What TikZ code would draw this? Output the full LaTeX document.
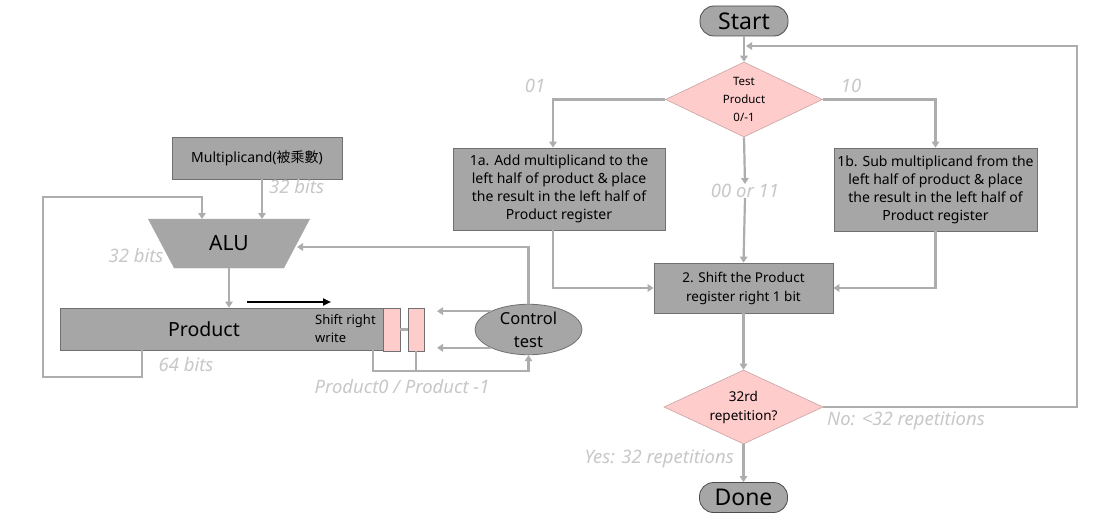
\documentclass[tikz,border=0pt]{standalone}
\usepackage{fontspec}
\setmainfont{Noto Sans}
\newfontfamily\cjk{Noto Sans CJK TC}
\usetikzlibrary{shapes.geometric,arrows.meta}
\definecolor{boxgray}{HTML}{A6A6A6}
\definecolor{linegray}{HTML}{ADADAD}
\definecolor{lblgray}{HTML}{C8C8C8}
\definecolor{pinkf}{HTML}{FFCCCC}
\definecolor{pinke}{HTML}{C9A3A3}
\definecolor{edge}{HTML}{707070}
\begin{document}
\begin{tikzpicture}[x=1pt,y=-1pt,
  conn/.style={draw=linegray,line width=2.2pt},
  arr/.style={conn,-{Triangle[width=7.5pt,length=6pt]}},
  box/.style={draw=edge,fill=boxgray,line width=0.8pt,inner sep=0pt,align=center},
  stepbox/.style={box,font=\fontsize{14}{18}\selectfont},
  lbl/.style={text=lblgray,font=\fontsize{18.5}{20}\selectfont\itshape,inner sep=0pt},
  term/.style={box,draw=black!70,rounded corners=14pt,minimum width=88pt,minimum height=30pt,font=\fontsize{23}{24}\selectfont},
  dia/.style={diamond,aspect=2,draw=pinke,fill=pinkf,line width=0.6pt,inner sep=0pt,align=center},
  pinkreg/.style={draw=edge,fill=pinkf,line width=0.8pt,inner sep=0pt,minimum height=43pt}
]
\useasboundingbox[fill=white] (0,0) rectangle (1105,519);

% ---------------- right flowchart ----------------
\node[term] (start) at (744,21) {Start};
\node[dia,minimum width=157pt,minimum height=75pt,font=\fontsize{11.5}{18}\selectfont] (d1) at (744,99.5) {Test\\Product\\0/-1};
\node[stepbox,minimum width=212pt,minimum height=82pt] (b1a) at (559,189) {1a. Add multiplicand to the\\left half of product \& place\\the result in the left half of\\Product register};
\node[stepbox,minimum width=203pt,minimum height=83pt] (b1b) at (935.5,189.5) {1b. Sub multiplicand from the\\left half of product \& place\\the result in the left half of\\Product register};
\node[lbl] (mid) at (745,191) {00 or 11};
\node[stepbox,minimum width=179pt,minimum height=50pt,font=\fontsize{13.5}{19}\selectfont] (b2) at (743.5,288) {2. Shift the Product\\register right 1 bit};
\node[dia,minimum width=159pt,minimum height=74pt,font=\fontsize{13.5}{19}\selectfont] (d2) at (743.5,407) {32rd\\repetition?};
\node[term] (done) at (743.5,497.5) {Done};

\node[lbl] (l01) at (535,86) {01};
\node[lbl] (l10) at (851,86) {10};
\node[lbl,anchor=west] (lno) at (827,421) {No: <32 repetitions};
\node[lbl,anchor=east] (lyes) at (734,459) {Yes: 32 repetitions};

\coordinate (ja) at (553,99.5);
\coordinate (lr) at (1077,407);
\coordinate (lt) at (1077,46);
\coordinate (li) at (746,46);

\draw[arr] (start.south) -- (d1.north);
\draw[arr] (d1.west) -- (ja) -- (ja |- b1a.north);
\draw[arr] (d1.east) -| (b1b.north);
\draw[arr] (d1.south) -- (mid.north);
\draw[arr] (mid.south) -- (b2.north);
\draw[arr] (ja |- b1a.south) |- (b2.west);
\draw[arr] (b1b.south) |- (b2.east);
\draw[arr] (b2.south) -- (d2.north);
\draw[arr] (d2.south) -- (done.north);
\draw[arr] (d2.east) -- (lr) -- (lt) -- (li);

% ---------------- left datapath ----------------
\node[box,minimum width=170pt,minimum height=42pt,font=\fontsize{14}{16}\selectfont] (mc) at (257,158) {Multiplicand({\cjk 被乘數})};
\node[trapezium,trapezium stretches=true,shape border rotate=180,
      trapezium left angle=58.5,trapezium right angle=58.5,
      minimum width=162pt,minimum height=49pt,inner sep=0pt,
      fill=boxgray,draw=boxgray,font=\fontsize{21}{24}\selectfont] (alu) at (229,243.5) {ALU};
\node[box,minimum width=323pt,minimum height=42pt] (prod) at (221.5,329) {};
\node[inner sep=0pt,font=\fontsize{19.5}{20}\selectfont] (prodtxt) at (204,329) {Product};
\node[inner sep=0pt,anchor=west,align=left,font=\fontsize{13}{18}\selectfont] (shtxt) at (315,329) {Shift right\\write};
\node[pinkreg,minimum width=17pt] (p1) at (391.5,329.5) {};
\node[pinkreg,minimum width=16pt] (p2) at (416,329.5) {};
\node[ellipse,draw=edge,fill=boxgray,line width=0.8pt,inner sep=0pt,minimum width=107pt,minimum height=43pt,align=center,font=\fontsize{16.5}{23}\selectfont] (ctrl) at (528.5,329.5) {Control\\test};

\node[lbl,anchor=west] (b32a) at (269,187) {32 bits};
\node[lbl] (b32b) at (136,256) {32 bits};
\node[lbl] (b64) at (186,365) {64 bits};
\node[lbl] (lprod) at (402,387) {Product0 / Product -1};

\coordinate (ain1) at (202,219);
\coordinate (ain2) at (262,219);
\coordinate (ain3) at (297,247);
\coordinate (aout) at (229,268);
\coordinate (fa) at (142,377);
\coordinate (fb) at (43,197);
\coordinate (bl) at (373,371);
\coordinate (sa) at (247,302);
\coordinate (sb) at (331,302);

\draw[arr] (mc.south -| ain2) -- (ain2);
\draw[arr] (prod.south -| fa) -- (fa) -| (fb) -| (ain1);
\draw[arr] (aout) -- (prod.north -| aout);
\draw[arr] (ctrl.north) |- (ain3);
\draw[conn] (p1.east) -- (p2.west);
\draw[arr] (ctrl.154) -- (ctrl.154 -| 437,0);
\draw[arr] (ctrl.206) -- (ctrl.206 -| 437,0);
\draw[arr] (prod.south -| bl) -- (bl) -| (ctrl.south);
\draw[conn] (p2.south) -- (p2.south |- bl);
\draw[black,line width=2pt,-{Triangle[width=7pt,length=8pt]}] (sa) -- (sb);
\end{tikzpicture}
\end{document}
